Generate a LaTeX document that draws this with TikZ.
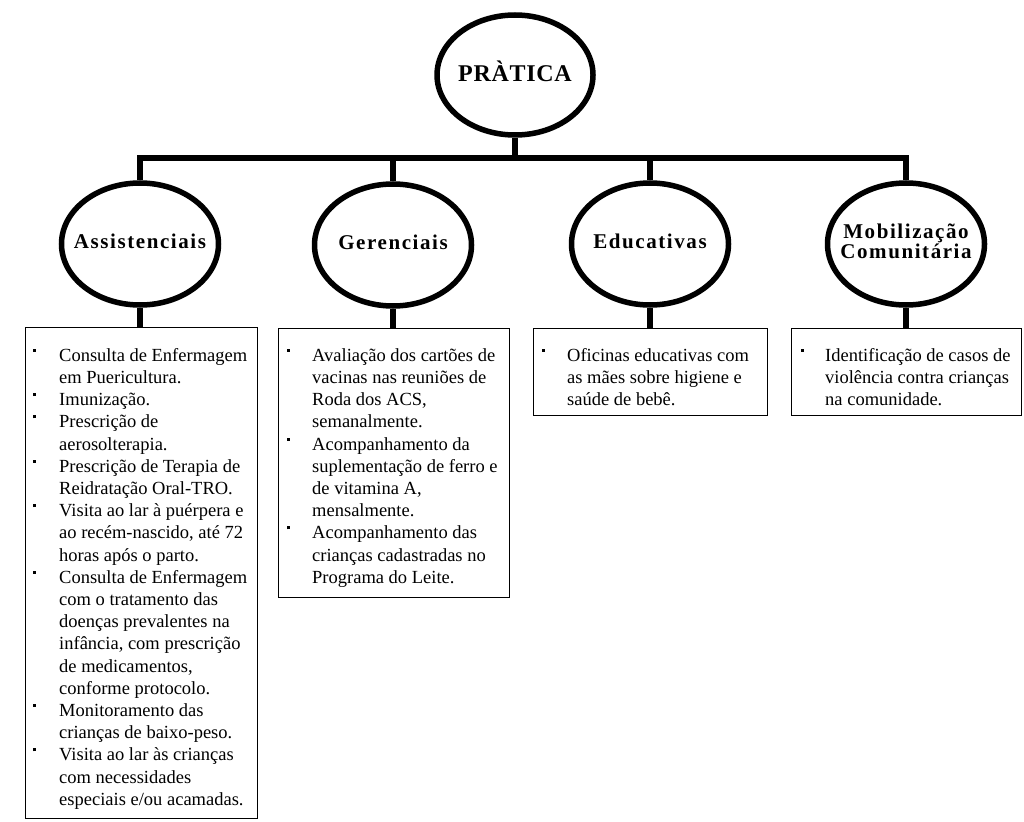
\documentclass[tikz,border=0pt]{standalone}
\usepackage{fontspec}
\setmainfont{Liberation Serif}
\newfontfamily\labfont[LetterSpace=7.5]{Liberation Serif}
\newfontfamily\topfont[LetterSpace=3]{Liberation Serif}
\usetikzlibrary{shapes.geometric,calc}
\newcommand\bul{\rule[9.5pt]{2.6pt}{3pt}}
\newcommand\ovtext[1]{\makebox[0pt][c]{\begin{tabular}{@{}c@{}}#1\end{tabular}}}
\begin{document}
\begin{tikzpicture}[x=1pt,y=-1pt,
  oval/.style={ellipse, draw, line width=5.5pt, minimum width=157pt, minimum height=122pt,
    inner sep=0pt, font=\labfont\bfseries\fontsize{21}{19.5}\selectfont},
  conn/.style={line width=6.5pt, line join=miter},
  box/.style={draw, line width=1.1pt, anchor=north west, inner sep=0pt},
  txt/.style={anchor=north west, inner sep=0pt, font=\fontsize{18.5}{22.2}\selectfont, align=left}]
\useasboundingbox (0,0) rectangle (1024,821);
\fill[white] (0,0) rectangle (1024,821);

\node[oval, minimum width=156pt, minimum height=120pt,
  font=\topfont\bfseries\fontsize{24}{26}\selectfont] (top) at (515,75) {\ovtext{PRÀTICA}};
\node[oval] (a) at (140,244) {\ovtext{Assistenciais}};
\node[oval] (g) at (393,245) {\ovtext{Gerenciais}};
\node[oval] (e) at (650,244) {\ovtext{Educativas}};
\node[oval] (m) at (906,244) {\ovtext{Mobilização\\Comunitária}};

\coordinate (j) at (515,158);
\draw[conn] (top.south) -- (j);
\draw[conn, line cap=rect] (a.north |- j) -- (m.north |- j);
\draw[conn] (a.north) -- (a.north |- j);
\draw[conn] (g.north) -- (g.north |- j);
\draw[conn] (e.north) -- (e.north |- j);
\draw[conn] (m.north) -- (m.north |- j);

\node[box, minimum width=232pt, minimum height=491pt] (b1) at (25,327) {};
\node[box, minimum width=231pt, minimum height=269pt] (b2) at (278,328) {};
\node[box, minimum width=234pt, minimum height=87pt] (b3) at (533,328) {};
\node[box, minimum width=230pt, minimum height=87pt] (b4) at (791,328) {};

\draw[conn] (a.south) -- (a.south |- b1.north);
\draw[conn] (g.south) -- (g.south |- b2.north);
\draw[conn] (e.south) -- (e.south |- b3.north);
\draw[conn] (m.south) -- (m.south |- b4.north);

\node[txt] (t1) at ($(b1.north west)+(8,18.5)$) {\begin{tabular}{@{}p{26pt}@{}l@{}}
\bul & Consulta de Enfermagem\\
 & em Puericultura.\\
\bul & Imunização.\\
\bul & Prescrição de\\
 & aerosolterapia.\\
\bul & Prescrição de Terapia de\\
 & Reidratação Oral-TRO.\\
\bul & Visita ao lar à puérpera e\\
 & ao recém-nascido, até 72\\
 & horas após o parto.\\
\bul & Consulta de Enfermagem\\
 & com o tratamento das\\
 & doenças prevalentes na\\
 & infância, com prescrição\\
 & de medicamentos,\\
 & conforme protocolo.\\
\bul & Monitoramento das\\
 & crianças de baixo-peso.\\
\bul & Visita ao lar às crianças\\
 & com necessidades\\
 & especiais e/ou acamadas.
\end{tabular}};

\node[txt] (t2) at ($(b2.north west)+(9,17.5)$) {\begin{tabular}{@{}p{25pt}@{}l@{}}
\bul & Avaliação dos cartões de\\
 & vacinas nas reuniões de\\
 & Roda dos ACS,\\
 & semanalmente.\\
\bul & Acompanhamento da\\
 & suplementação de ferro e\\
 & de vitamina A,\\
 & mensalmente.\\
\bul & Acompanhamento das\\
 & crianças cadastradas no\\
 & Programa do Leite.
\end{tabular}};

\node[txt] (t3) at ($(b3.north west)+(9,17.5)$) {\begin{tabular}{@{}p{25pt}@{}l@{}}
\bul & Oficinas educativas com\\
 & as mães sobre higiene e\\
 & saúde de bebê.
\end{tabular}};

\node[txt] (t4) at ($(b4.north west)+(10,17.5)$) {\begin{tabular}{@{}p{24pt}@{}l@{}}
\bul & Identificação de casos de\\
 & violência contra crianças\\
 & na comunidade.
\end{tabular}};
\end{tikzpicture}
\end{document}
